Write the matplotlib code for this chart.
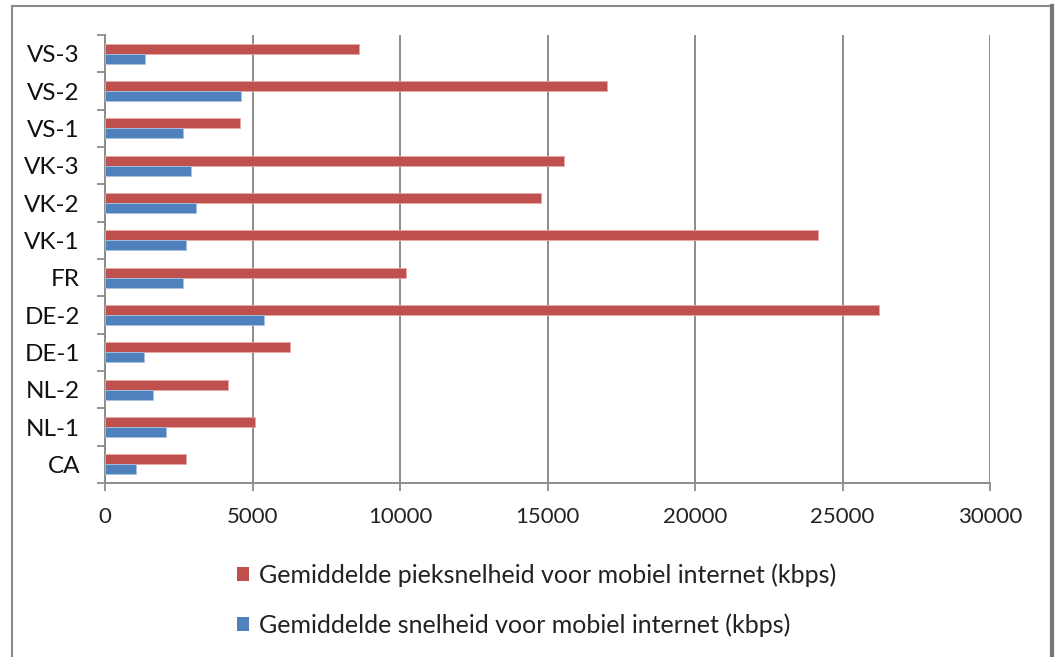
import matplotlib.pyplot as plt
from matplotlib.lines import Line2D
from matplotlib.patches import Patch

# Mobiel internet per land/operator (kbps)
categories = ['CA', 'NL-1', 'NL-2', 'DE-1', 'DE-2', 'FR',
              'VK-1', 'VK-2', 'VK-3', 'VS-1', 'VS-2', 'VS-3']
piek = [2750, 5080, 4170, 6270, 26240, 10190,
        24170, 14780, 15570, 4580, 17000, 8600]
gemiddeld = [1050, 2070, 1630, 1320, 5390, 2640,
             2750, 3080, 2920, 2640, 4610, 1360]

label_piek = 'Gemiddelde pieksnelheid voor mobiel internet (kbps)'
label_gem = 'Gemiddelde snelheid voor mobiel internet (kbps)'

red = '#C0504D'
blue = '#4F81BD'
grid_gray = '#8C8C8C'

plt.rcParams['font.family'] = ['Lato', 'DejaVu Sans']

W, H = 1058, 657
fig = plt.figure(figsize=(W / 100, H / 100), dpi=100)
ax = fig.add_axes([105 / W, 1 - 483 / H, 885 / W, 448 / H])

y = list(range(len(categories)))
h = 0.27
ax.barh([i + h / 2 for i in y], piek, height=h, color=red,
        edgecolor='#E8A8A6', linewidth=0.6, zorder=3)
ax.barh([i - h / 2 for i in y], gemiddeld, height=h, color=blue,
        edgecolor='#A9C1E0', linewidth=0.6, zorder=3)

ax.set_xlim(0, 30000)
ax.set_ylim(-0.5, len(categories) - 0.5)
ax.set_xticks(range(0, 30001, 5000))
ax.set_xticklabels([str(v) for v in range(0, 30001, 5000)], fontsize=16, color='#222222')
ax.set_yticks(y)
ax.set_yticklabels(categories, fontsize=17.5, color='#111111')

# Excel-style category ticks sit between the groups
ax.set_yticks([i - 0.5 for i in range(len(categories) + 1)], minor=True)
ax.tick_params(axis='y', which='major', length=0, pad=18)
ax.tick_params(axis='y', which='minor', length=6, color=grid_gray, width=1.3)
ax.tick_params(axis='x', length=6, color=grid_gray, width=1.3, pad=11)

ax.grid(axis='x', color=grid_gray, linewidth=1.4, zorder=0)
for side in ('top', 'right'):
    ax.spines[side].set_visible(False)
for side in ('left', 'bottom'):
    ax.spines[side].set_color(grid_gray)
    ax.spines[side].set_linewidth(1.4)

handles = [Patch(facecolor=red, edgecolor='none'), Patch(facecolor=blue, edgecolor='none')]
fig.legend(handles, [label_piek, label_gem], loc='upper left',
           bbox_to_anchor=(214 / W, 1 - 541 / H), frameon=False, fontsize=18,
           handlelength=0.5, handleheight=0.5, handletextpad=0.4,
           labelspacing=1.04, labelcolor='#222222')

# chart frame
fc = '#8A8A8A'
fig.add_artist(Line2D([12 / W, 12 / W], [0, 1 - 6 / H], color=fc, lw=1.5, transform=fig.transFigure))
fig.add_artist(Line2D([12 / W, 1052 / W], [1 - 6 / H, 1 - 6 / H], color=fc, lw=1.5, transform=fig.transFigure))
fig.add_artist(Line2D([1052 / W, 1052 / W], [0, 1 - 6 / H], color='#777777', lw=3, transform=fig.transFigure))

fig.savefig('out.png', dpi=100)
